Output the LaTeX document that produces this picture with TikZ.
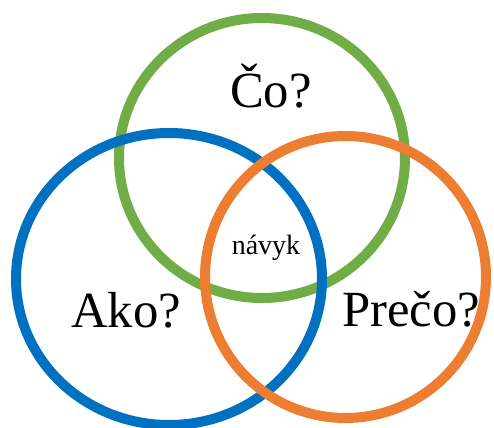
\documentclass[tikz,border=0pt]{standalone}
\usepackage{fontspec}
\setmainfont{Liberation Serif}
\definecolor{ringgreen}{RGB}{112,173,71}
\definecolor{ringblue}{RGB}{0,112,192}
\definecolor{ringorange}{RGB}{237,125,49}
\tikzset{
  ring/.style={line width=7.5pt},
  bigtext/.style={inner sep=0pt,anchor=base,font=\fontsize{38}{40}\selectfont},
  smalltext/.style={inner sep=0pt,anchor=base,font=\fontsize{21}{23}\selectfont}
}
\begin{document}
\begin{tikzpicture}[x=0.75pt,y=0.75pt,yscale=-1,xscale=1]
\useasboundingbox (0,0) rectangle (494,428);

%Shape: Circle [id:co]
\draw [ringgreen,ring] (262,158) ellipse [x radius=143, y radius=140];
%Shape: Circle [id:ako]
\draw [ringblue,ring] (169,279) ellipse [x radius=153, y radius=146];
%Shape: Circle [id:preco]
\draw [ringorange,ring] (345.5,277) ellipse [x radius=140.5, y radius=141];

% Text Node
\node [bigtext] (co) at (271,108) {Čo?};
% Text Node
\node [bigtext] (ako) at (126,328) {Ako?};
% Text Node
\node [bigtext] (preco) at (411,327) {Prečo?};
% Text Node
\node [smalltext] (navyk) at (266,255) {návyk};

\end{tikzpicture}
\end{document}
